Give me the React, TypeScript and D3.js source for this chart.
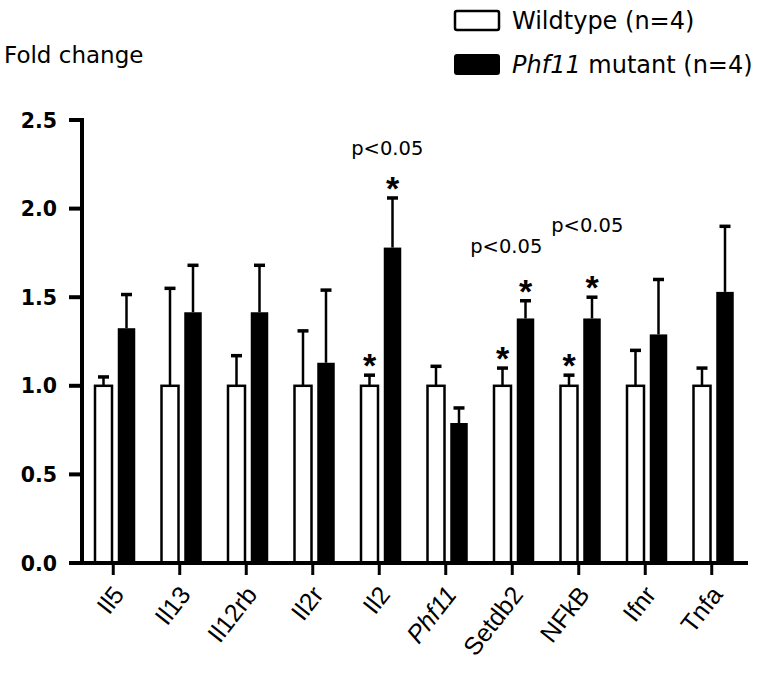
import React from "react";
import * as d3 from "d3";

const categories = ["Il5", "Il13", "Il12rb", "Il2r", "Il2", "Phf11", "Setdb2", "NFkB", "Ifnr", "Tnfa"];
const italicCats = ["Phf11"];
const wildtypeMean = [1, 1, 1, 1, 1, 1, 1, 1, 1, 1];
const wildtypeSem = [0.05, 0.55, 0.17, 0.31, 0.06, 0.11, 0.10, 0.06, 0.20, 0.10];
const mutantMean = [1.325, 1.415, 1.415, 1.13, 1.78, 0.79, 1.38, 1.38, 1.29, 1.53];
const mutantSem = [0.19, 0.265, 0.265, 0.41, 0.28, 0.085, 0.10, 0.12, 0.31, 0.37];
const wildtypeStars = ["Il2", "Setdb2", "NFkB"];
const mutantStars = ["Il2", "Setdb2", "NFkB"];
const pLabelCats = ["Il2", "Setdb2", "NFkB"];
const pLabelValues = [2.3, 1.75, 1.87];
const pLabelText = "p<0.05";
const yTicks = [0, 0.5, 1.0, 1.5, 2.0, 2.5];
const legendLabels = ["Wildtype (n=4)", "mutant (n=4)"];
const yTitle = "Fold change";

export default function App() {
  const W = 774, H = 675;
  const y = d3.scaleLinear().domain([0, 2.5]).range([563, 120]);
  const x = d3.scaleBand().domain(categories).range([80, 745]);
  const tick = (c: string) => (x(c) as number) + x.bandwidth() / 2;
  const axisX = 82;
  const sw = 2.5;
  const wtBox = (c: string) => [tick(c) - 19.5, tick(c)];
  const muBox = (c: string) => [tick(c) + 4.5, tick(c) + 22];

  const star = (cx: number, errTop: number, key: string) => (
    <text key={key} x={cx} y={errTop - 17 + 19} textAnchor="middle"
      fontFamily="Liberation Sans, Arial, sans-serif" fontWeight="bold" fontSize={34}>*</text>
  );

  return (
    <svg width={W} height={H} style={{ position: "absolute", left: 0, top: 0, background: "#fff" }}>
      <rect x={0} y={0} width={W} height={H} fill="#fff" />
      {/* y title */}
      <text x={4} y={63} fontFamily="DejaVu Sans, sans-serif" fontSize={23}>{yTitle}</text>

      {/* legend */}
      <rect x={455} y={11} width={44} height={19} rx={2} fill="#fff" stroke="#000" strokeWidth={2.5} />
      <text x={512} y={29} fontFamily="DejaVu Sans, sans-serif" fontSize={24}>{legendLabels[0]}</text>
      <rect x={455} y={55} width={44} height={19} rx={2} fill="#000" stroke="#000" strokeWidth={2} />
      <text x={512} y={73} fontFamily="DejaVu Sans, sans-serif" fontSize={24}>
        <tspan fontStyle="italic">Phf11</tspan> {legendLabels[1]}
      </text>

      {/* y axis */}
      <line x1={axisX} x2={axisX} y1={y(2.5) - 2} y2={y(0) + 2} stroke="#000" strokeWidth={4} />
      {yTicks.map((t) => (
        <g key={t}>
          <line x1={69} x2={axisX} y1={y(t)} y2={y(t)} stroke="#000" strokeWidth={4} />
          <text x={57} y={y(t) + 7.5} textAnchor="end" fontFamily="DejaVu Sans, sans-serif"
            fontWeight="bold" fontSize={20.5}>{t.toFixed(1)}</text>
        </g>
      ))}

      {/* bars */}
      {categories.map((c, i) => {
        const [wx0, wx1] = wtBox(c);
        const [mx0, mx1] = muBox(c);
        const wc = (wx0 + wx1) / 2, mc = (mx0 + mx1) / 2;
        const wTop = y(wildtypeMean[i] + wildtypeSem[i]);
        const mTop = y(mutantMean[i] + mutantSem[i]);
        return (
          <g key={c}>
            <line x1={wc} x2={wc} y1={y(wildtypeMean[i])} y2={wTop} stroke="#000" strokeWidth={sw} />
            <line x1={wc - 5.5} x2={wc + 5.5} y1={wTop} y2={wTop} stroke="#000" strokeWidth={3.5} />
            <rect x={wx0 + sw / 2} y={y(wildtypeMean[i])} width={wx1 - wx0 - sw} height={y(0) - y(wildtypeMean[i])}
              fill="#fff" stroke="#000" strokeWidth={sw} />
            <line x1={mc} x2={mc} y1={y(mutantMean[i])} y2={mTop} stroke="#000" strokeWidth={sw} />
            <line x1={mc - 5.5} x2={mc + 5.5} y1={mTop} y2={mTop} stroke="#000" strokeWidth={3.5} />
            <rect x={mx0} y={y(mutantMean[i])} width={mx1 - mx0} height={y(0) - y(mutantMean[i])} fill="#000" />
            {wildtypeStars.includes(c) && star(wc, wTop, "ws" + c)}
            {mutantStars.includes(c) && star(mc, mTop, "ms" + c)}
          </g>
        );
      })}

      {/* x axis */}
      <line x1={69} x2={748} y1={y(0)} y2={y(0)} stroke="#000" strokeWidth={4} />
      {categories.map((c) => (
        <g key={"t" + c}>
          <line x1={tick(c)} x2={tick(c)} y1={y(0)} y2={y(0) + 12} stroke="#000" strokeWidth={3} />
          <text transform={`translate(${tick(c) + 12},${595}) rotate(-52)`} textAnchor="end"
            fontFamily="Liberation Sans, Arial, sans-serif" fontSize={25}
            fontStyle={italicCats.includes(c) ? "italic" : "normal"}>{c}</text>
        </g>
      ))}

      {/* p labels */}
      {pLabelCats.map((c, i) => {
        const dx = [-5, -19, -4.5][i];
        return (
          <text key={"p" + c} x={tick(c) + 13 + dx} y={y(pLabelValues[i])} textAnchor="middle"
            fontFamily="DejaVu Sans, sans-serif" fontSize={19.5}>{pLabelText}</text>
        );
      })}
    </svg>
  );
}
